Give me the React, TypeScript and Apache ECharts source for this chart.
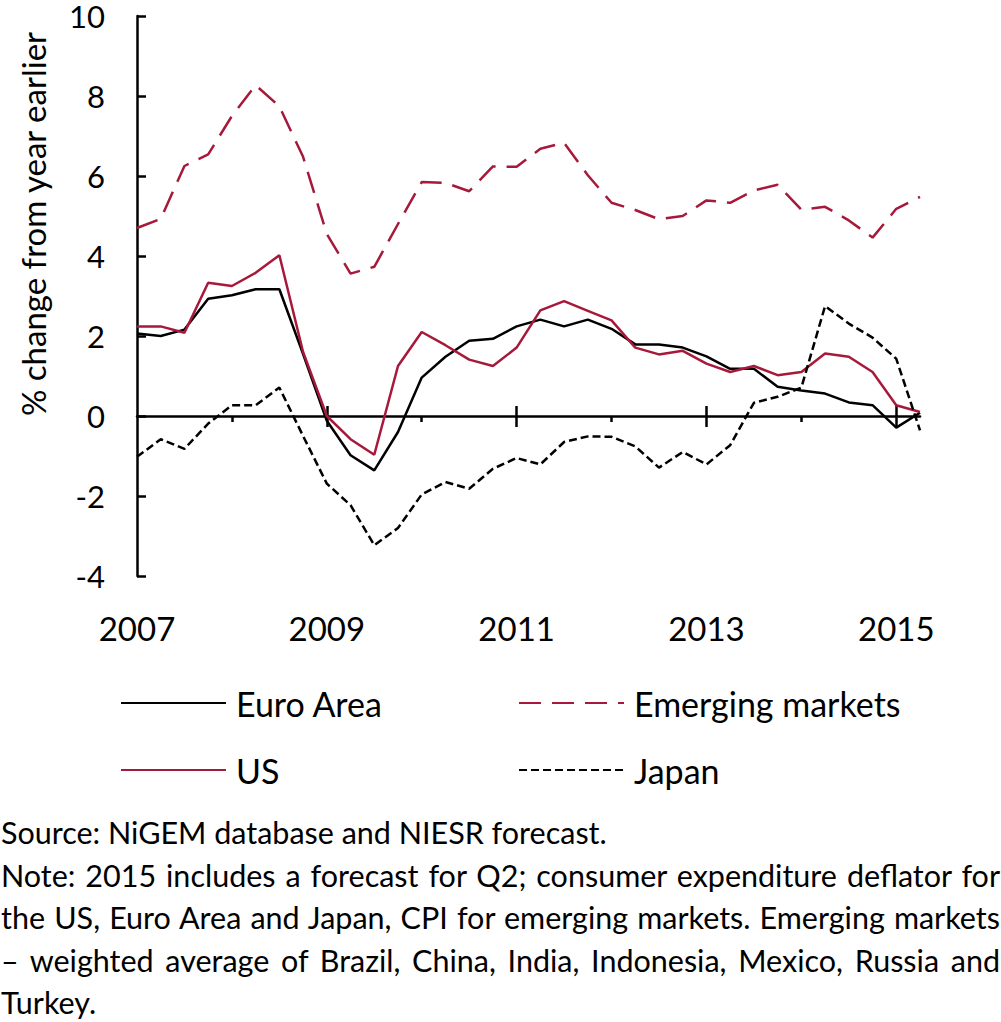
import React, { useEffect, useRef } from 'react';
import * as echarts from 'echarts';

// ---- Data ----
const years = [2007, 2008, 2009, 2010, 2011, 2012, 2013, 2014, 2015];
const quarterNames = ['Q1', 'Q2', 'Q3', 'Q4'];
const quarters: string[] = years
  .flatMap((y) => quarterNames.map((q) => `${y} ${q}`))
  .slice(0, 34); // 2007 Q1 .. 2015 Q2

const tickLabelYears = ['2007', '2009', '2011', '2013', '2015'];
const minorTickYears = ['2008', '2010', '2012', '2014'];
const majorTickYears = ['2009', '2011', '2013', '2015'];

const euroArea = [2.06, 2.0, 2.16, 2.93, 3.02, 3.17, 3.17, 1.55, -0.12, -0.98, -1.36, -0.4, 0.96, 1.48, 1.88, 1.93, 2.24, 2.41, 2.24, 2.41, 2.18, 1.79, 1.79, 1.71, 1.49, 1.18, 1.18, 0.73, 0.64, 0.56, 0.34, 0.27, -0.29, 0.08];
const us = [2.24, 2.24, 2.08, 3.33, 3.25, 3.58, 4.02, 1.6, 0.0, -0.58, -0.97, 1.25, 2.1, 1.77, 1.41, 1.25, 1.71, 2.64, 2.87, 2.63, 2.39, 1.71, 1.54, 1.63, 1.31, 1.1, 1.25, 1.02, 1.1, 1.56, 1.48, 1.1, 0.27, 0.1];
const emerging = [4.7, 4.93, 6.25, 6.54, 7.5, 8.27, 7.74, 6.48, 4.55, 3.56, 3.73, 4.8, 5.85, 5.83, 5.62, 6.24, 6.23, 6.68, 6.83, 6.02, 5.33, 5.15, 4.92, 5.0, 5.39, 5.33, 5.64, 5.78, 5.16, 5.23, 4.89, 4.46, 5.18, 5.48];
const japan = [-1.02, -0.58, -0.82, -0.19, 0.27, 0.27, 0.71, -0.5, -1.69, -2.23, -3.23, -2.8, -1.96, -1.65, -1.82, -1.32, -1.05, -1.21, -0.65, -0.51, -0.52, -0.76, -1.29, -0.9, -1.21, -0.73, 0.33, 0.48, 0.71, 2.75, 2.31, 1.96, 1.43, -0.36];

const yAxisTitle = '% change from year earlier';
const sourceLine = 'Source: NiGEM database and NIESR forecast.';
const noteLines = [
  'Note: 2015 includes a forecast for Q2; consumer expenditure deflator for',
  'the US, Euro Area and Japan, CPI for emerging markets. Emerging markets',
  '\u2013 weighted average of Brazil, China, India, Indonesia, Mexico, Russia and',
  'Turkey.',
];

const RED = '#a6193a';
const BLACK = '#000000';
const FONT = 'Lato, "Open Sans", sans-serif';

const isYearStart = (v: string, list: string[]) => v.endsWith('Q1') && list.includes(v.slice(0, 4));

export default function App() {
  const ref = useRef<HTMLDivElement>(null);

  useEffect(() => {
    document.body.style.margin = '0';
    if (!ref.current) return;
    const chart = echarts.init(ref.current, undefined, { renderer: 'svg' });

    const baseX = {
      type: 'category' as const,
      data: quarters,
      boundaryGap: false,
      gridIndex: 0,
      splitLine: { show: false },
    };

    const legendCommon = {
      orient: 'vertical',
      top: 683,
      padding: 0,
      itemWidth: 105,
      itemHeight: 14,
      itemGap: 27,
      itemStyle: { opacity: 0 },
      textStyle: { fontSize: 34, fontFamily: FONT, color: BLACK, lineHeight: 40, padding: [0, 0, 0, 5] },
    };

    const option: any = {
      animation: false,
      backgroundColor: '#ffffff',
      grid: { left: 137, top: 16, width: 783, height: 560, containLabel: false },
      xAxis: [
        {
          ...baseX,
          position: 'bottom',
          axisLine: { show: true, onZero: true, onZeroAxisIndex: 0, lineStyle: { color: BLACK, width: 2.5 } },
          axisTick: {
            show: true,
            interval: (_i: number, v: string) => isYearStart(v, minorTickYears),
            length: 6,
            inside: false,
            lineStyle: { color: BLACK, width: 2.5 },
          },
          axisLabel: { show: false },
        },
        {
          ...baseX,
          position: 'bottom',
          axisLine: { show: false, onZero: true, onZeroAxisIndex: 0 },
          axisTick: {
            show: true,
            interval: (_i: number, v: string) => isYearStart(v, majorTickYears),
            length: 11,
            inside: false,
            lineStyle: { color: BLACK, width: 2.5 },
          },
          axisLabel: { show: false },
        },
        {
          ...baseX,
          position: 'bottom',
          axisLine: { show: false, onZero: true, onZeroAxisIndex: 0 },
          axisTick: {
            show: true,
            interval: (_i: number, v: string) => isYearStart(v, majorTickYears),
            length: 10,
            inside: true,
            lineStyle: { color: BLACK, width: 2.5 },
          },
          axisLabel: { show: false },
        },
        {
          ...baseX,
          position: 'bottom',
          axisLine: { show: false, onZero: false },
          axisTick: { show: false },
          axisLabel: {
            show: true,
            interval: (_i: number, v: string) => isYearStart(v, tickLabelYears),
            formatter: (v: string) => v.slice(0, 4),
            fontSize: 33,
            fontFamily: FONT,
            color: BLACK,
            margin: 35,
          },
        },
      ],
      yAxis: {
        type: 'value',
        min: -4,
        max: 10,
        interval: 2,
        axisLine: { show: true, onZero: false, lineStyle: { color: BLACK, width: 2.5 } },
        axisTick: { show: true, inside: true, length: 9, lineStyle: { color: BLACK, width: 2.5 } },
        axisLabel: { fontSize: 31, fontFamily: FONT, color: BLACK, margin: 32, lineHeight: 26 },
        splitLine: { show: false },
      },
      legend: [
        { ...legendCommon, data: ['Euro Area', 'US'], left: 120 },
        { ...legendCommon, data: ['Emerging markets', 'Japan'], left: 518 },
      ],
      graphic: [
        {
          type: 'text',
          x: 33,
          y: 224,
          rotation: Math.PI / 2,
          style: {
            text: yAxisTitle,
            fontSize: 33,
            fontFamily: FONT,
            fill: BLACK,
            align: 'center',
            verticalAlign: 'middle',
          },
        },
      ],
      series: [
        {
          name: 'Euro Area',
          type: 'line',
          data: euroArea,
          symbol: 'none',
          lineStyle: { color: BLACK, width: 2.5 },
          itemStyle: { color: BLACK },
        },
        {
          name: 'US',
          type: 'line',
          data: us,
          symbol: 'none',
          lineStyle: { color: RED, width: 2.5 },
          itemStyle: { color: RED },
        },
        {
          name: 'Emerging markets',
          type: 'line',
          data: emerging,
          symbol: 'none',
          lineStyle: { color: RED, width: 2.5, type: [22, 11] },
          itemStyle: { color: RED },
        },
        {
          name: 'Japan',
          type: 'line',
          data: japan,
          symbol: 'none',
          lineStyle: { color: BLACK, width: 2.5, type: [8, 4] },
          itemStyle: { color: BLACK },
        },
      ],
    };

    chart.setOption(option);
    return () => chart.dispose();
  }, []);

  return (
    <div style={{ position: 'relative', width: 1001, height: 1022, background: '#fff', overflow: 'hidden' }}>
      <div ref={ref} style={{ position: 'absolute', left: 0, top: 0, width: 1001, height: 1022 }} />
      <div
        style={{
          position: 'absolute',
          left: 1,
          top: 811,
          width: 999,
          fontFamily: FONT,
          fontSize: 30.5,
          color: '#000',
        }}
      >
        <div style={{ whiteSpace: 'nowrap', height: 42.5, lineHeight: '42.5px' }}>{sourceLine}</div>
        {noteLines.map((t, i) => (
          <div
            key={i}
            style={{
              height: 42.5,
              lineHeight: '42.5px',
              textAlign: 'justify',
              textAlignLast: i < noteLines.length - 1 ? 'justify' : 'left',
              whiteSpace: 'normal',
            }}
          >
            {t}
          </div>
        ))}
      </div>
    </div>
  );
}
